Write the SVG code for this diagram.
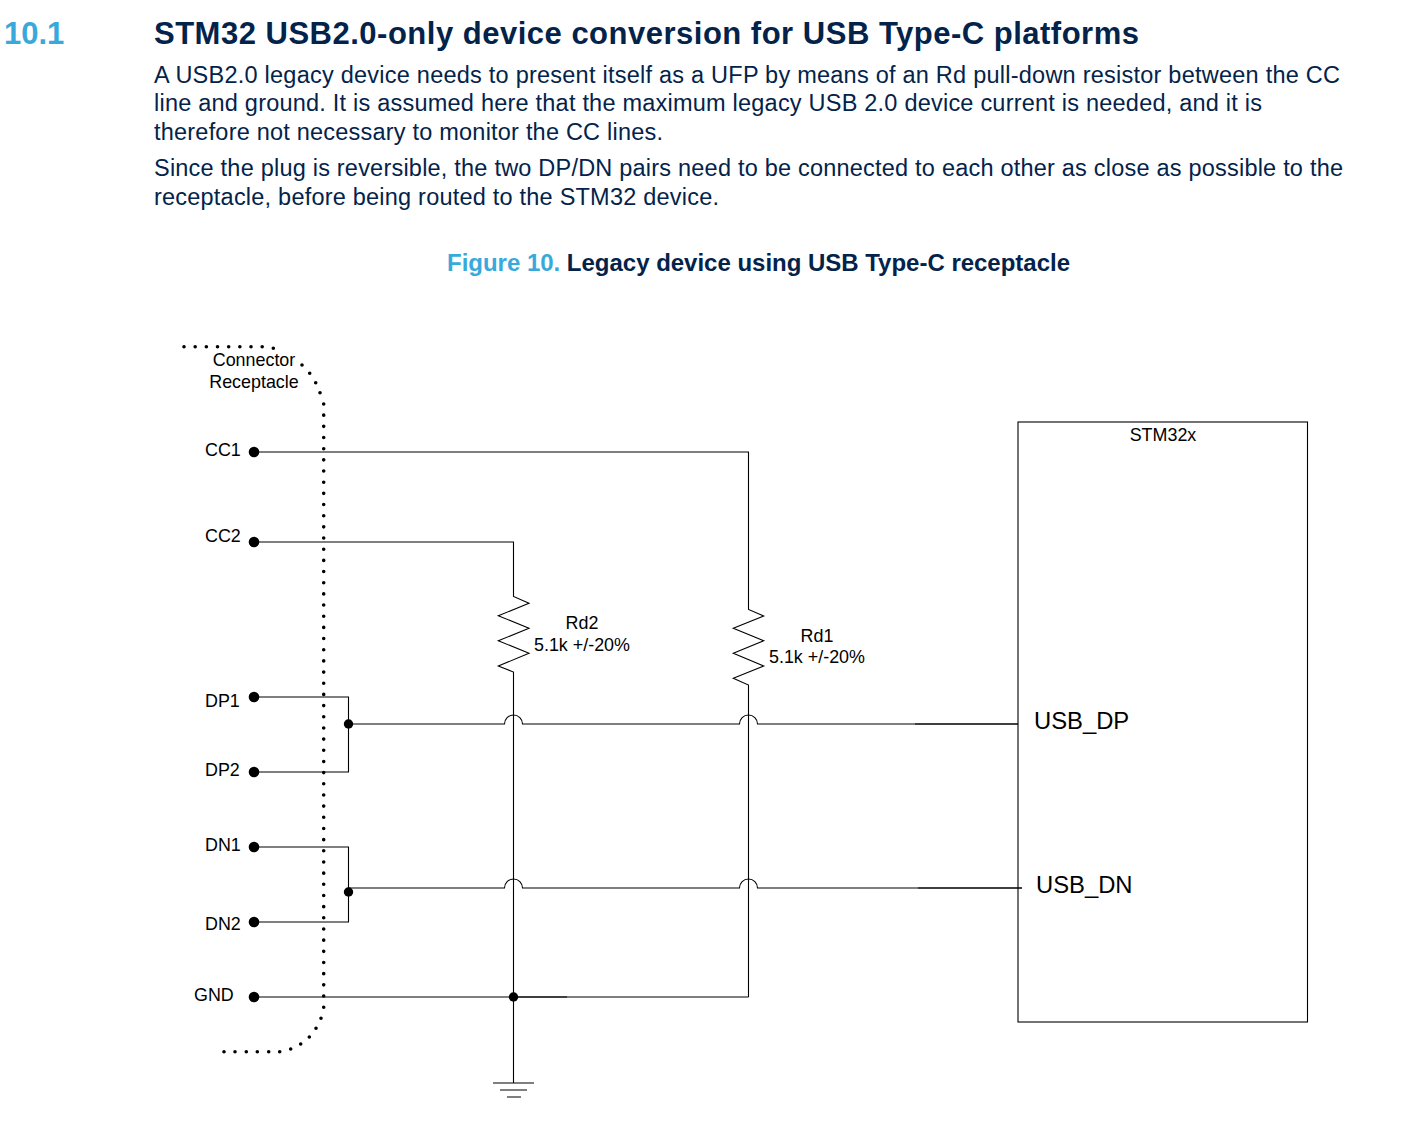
<svg xmlns="http://www.w3.org/2000/svg" width="1402" height="1143" viewBox="0 0 1402 1143">
<style>
text{font-family:"Liberation Sans",Arial,sans-serif}
.h{font-size:31px;font-weight:bold;fill:#03234b}
.sec{font-size:31px;font-weight:bold;fill:#39a9dc}
.b{font-size:23.5px;fill:#03234b}
.cap{font-size:24px;font-weight:bold;fill:#03234b}
.l{font-size:17.9px;fill:#000}
.p{font-size:23.8px;fill:#000}
.w{fill:none;stroke:#000;stroke-width:1.1}
.t{fill:#000}
.dots{fill:none;stroke:#000;stroke-width:3.6;stroke-linecap:round}
.m{text-anchor:middle}
</style>
<rect width="1402" height="1143" fill="#fff"/>
<g id="page-text">
<text class="sec" x="4" y="44">10.1</text>
<text class="h" x="154" y="44" textLength="985">STM32 USB2.0-only device conversion for USB Type-C platforms</text>
<text class="b" x="154" y="83" textLength="1186">A USB2.0 legacy device needs to present itself as a UFP by means of an Rd pull-down resistor between the CC</text>
<text class="b" x="154" y="111" textLength="1108">line and ground. It is assumed here that the maximum legacy USB 2.0 device current is needed, and it is</text>
<text class="b" x="154" y="140" textLength="509">therefore not necessary to monitor the CC lines.</text>
<text class="b" x="154" y="176" textLength="1189">Since the plug is reversible, the two DP/DN pairs need to be connected to each other as close as possible to the</text>
<text class="b" x="154" y="205" textLength="565">receptacle, before being routed to the STM32 device.</text>
<text class="cap" x="447" y="271" textLength="623"><tspan fill="#39a9dc">Figure 10.</tspan> Legacy device using USB Type-C receptacle</text>
</g>
<g id="connectors">
<path class="w" d="M254 452H748.5V609.5L763.7 616L733.3 628.3L763.7 640.7L733.3 653.3L763.7 666L733.3 678.3L748.5 685V997"/>
<path class="w" d="M254 542H513.5V596.5L529 603.3L498.3 615.7L529 628.3L498.3 640.7L529 653.3L498.3 666L513.5 672V1083"/>
<path class="w" d="M254 697H348.5V772H254"/>
<path class="w" d="M254 847H348.5V922H254"/>
<path class="w" d="M348.5 724H504.5A9 9 0 0 1 522.5 724H739.5A9 9 0 0 1 757.5 724H1018"/>
<path class="w" d="M348.5 888H504.5A9 9 0 0 1 522.5 888H739.5A9 9 0 0 1 757.5 888H1022"/>
<path class="w" d="M254 997H748.5"/>
<path d="M514 997H567M915 724H1018M918 888H1022" fill="none" stroke="#000" stroke-width="1.2"/>
<path class="w" d="M493 1083H534M500 1090H527M507 1097H521"/>
</g>
<g id="receptacle-outline">
<path class="dots" stroke-dasharray="0 11.17" d="M184 346.7H263M323.7 404V1008"/>
<path class="dots" d="M273.3 348.3h0M302 365h0M309.7 373.3h0M315.7 382.7h0M320 392.7h0M321 1018.3h0M316 1028.3h0M309.3 1037h0M300.7 1044h0M290.7 1049h0M279.7 1051.7h0M268.7 1051.7h0M257.3 1051.7h0M246.3 1051.7h0M235 1051.7h0M224 1051.7h0"/>
<text class="l m" x="254" y="366">Connector</text>
<text class="l m" x="254" y="388">Receptacle</text>
</g>
<g id="CC1"><circle class="t" cx="254" cy="452" r="5.3"/><text class="l" x="205" y="456">CC1</text></g>
<g id="CC2"><circle class="t" cx="254" cy="542" r="5.3"/><text class="l" x="205" y="542">CC2</text></g>
<g id="DP1"><circle class="t" cx="254" cy="697" r="5.3"/><text class="l" x="205" y="707">DP1</text></g>
<g id="DP2"><circle class="t" cx="254" cy="772" r="5.3"/><text class="l" x="205" y="776">DP2</text></g>
<g id="DN1"><circle class="t" cx="254" cy="847" r="5.3"/><text class="l" x="205" y="851">DN1</text></g>
<g id="DN2"><circle class="t" cx="254" cy="922" r="5.3"/><text class="l" x="205" y="930">DN2</text></g>
<g id="GND"><circle class="t" cx="254" cy="997" r="5.3"/><text class="l" x="194" y="1001">GND</text></g>
<g id="junctions">
<circle class="t" cx="348.5" cy="724" r="4.7"/>
<circle class="t" cx="348.5" cy="892" r="4.7"/>
<circle class="t" cx="513.5" cy="997" r="4.7"/>
</g>
<g id="Rd2"><text class="l m" x="582" y="629">Rd2</text><text class="l m" x="582" y="651">5.1k +/-20%</text></g>
<g id="Rd1"><text class="l m" x="817" y="642">Rd1</text><text class="l m" x="817" y="663">5.1k +/-20%</text></g>
<g id="STM32x">
<rect x="1018" y="422" width="289.5" height="600" fill="none" stroke="#000" stroke-width="1.1"/>
<text class="l m" x="1163" y="441">STM32x</text>
<text class="p" x="1034" y="729">USB_DP</text>
<text class="p" x="1036" y="893">USB_DN</text>
</g>
</svg>
